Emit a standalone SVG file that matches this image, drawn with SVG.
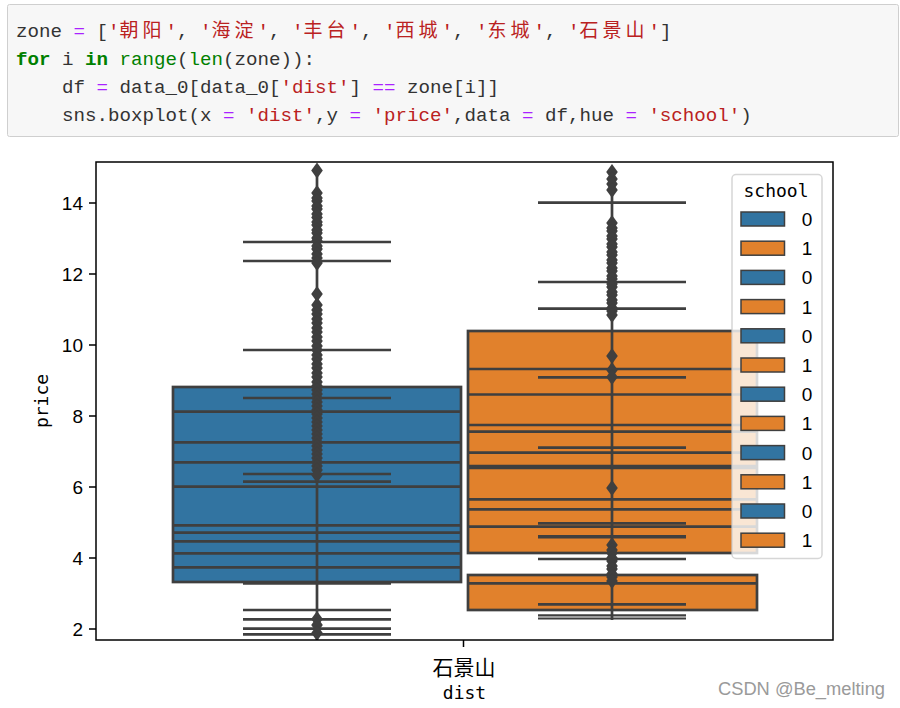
<svg xmlns="http://www.w3.org/2000/svg" xmlns:xlink="http://www.w3.org/1999/xlink" width="900" height="708" viewBox="0 0 900 708">
<style>
.code{font-family:"Liberation Mono","DejaVu Sans Mono",monospace;font-size:19.17px;fill:#333}
.op{fill:#aa22ff}.str{fill:#ba2121}.kw{fill:#008000;font-weight:bold}.bi{fill:#008000}
.cjk{font-family:"Noto Sans CJK SC",sans-serif;font-size:19px;letter-spacing:4px}
.tick{font-family:"Liberation Sans",Arial,sans-serif;font-size:19px;fill:#000}
.lab{font-family:"DejaVu Sans Mono","Liberation Mono",monospace;font-size:18px;fill:#000}
.ln{stroke:#3f3f3f;stroke-width:2.7;fill:none}
.cap{stroke:#3f3f3f;stroke-width:2.7}
.blue{fill:#3274a1}.orange{fill:#e1812c}
.patch{stroke:#3f3f3f;stroke-width:1.5}
.leg{font-family:"Liberation Sans",Arial,sans-serif;font-size:19px;fill:#000;text-anchor:middle}
</style>
<defs>
<path id="d" d="M0,-8 L5.8,0 L0,8 L-5.8,0 Z" fill="#3f3f3f"/>
<clipPath id="ax"><rect x="96" y="162" width="737" height="478"/></clipPath>
</defs>
<rect width="900" height="708" fill="#fff"/>
<g id="code">
<rect x="7.5" y="4.5" width="891" height="132" rx="2" fill="#f7f7f7" stroke="#cfcfcf"/>
<text class="code" y="37"><tspan x="16">zone</tspan><tspan x="73.5" class="op">=</tspan><tspan x="96.5">[</tspan><tspan x="108" class="str">'</tspan><tspan x="119.5" class="str cjk">朝阳</tspan><tspan x="165.5" class="str">'</tspan><tspan x="177">,</tspan><tspan x="200" class="str">'</tspan><tspan x="211.5" class="str cjk">海淀</tspan><tspan x="257.5" class="str">'</tspan><tspan x="269">,</tspan><tspan x="292" class="str">'</tspan><tspan x="303.5" class="str cjk">丰台</tspan><tspan x="349.5" class="str">'</tspan><tspan x="361">,</tspan><tspan x="384" class="str">'</tspan><tspan x="395.5" class="str cjk">西城</tspan><tspan x="441.5" class="str">'</tspan><tspan x="453">,</tspan><tspan x="476" class="str">'</tspan><tspan x="487.5" class="str cjk">东城</tspan><tspan x="533.5" class="str">'</tspan><tspan x="545">,</tspan><tspan x="568" class="str">'</tspan><tspan x="579.5" class="str cjk">石景山</tspan><tspan x="648.5" class="str">'</tspan><tspan x="660">]</tspan></text>
<text class="code" x="16" y="65"><tspan class="kw">for</tspan> i <tspan class="kw">in</tspan> <tspan class="bi">range</tspan>(<tspan class="bi">len</tspan>(zone)):</text>
<text class="code" x="62" y="93">df <tspan class="op">=</tspan> data_0[data_0[<tspan class="str">'dist'</tspan>] <tspan class="op">==</tspan> zone[i]]</text>
<text class="code" x="62" y="121">sns.boxplot(x <tspan class="op">=</tspan> <tspan class="str">'dist'</tspan>,y <tspan class="op">=</tspan> <tspan class="str">'price'</tspan>,data <tspan class="op">=</tspan> df,hue <tspan class="op">=</tspan> <tspan class="str">'school'</tspan>)</text>
</g>
<g id="plot" clip-path="url(#ax)">
<g id="boxes-blue">
<rect x="173" y="387" width="288" height="195" class="blue ln"/>
<path class="ln" d="M173,411.7H461M173,442.3H461M173,462.3H461M173,486.7H461M173,525.3H461M173,532.7H461M173,541.3H461M173,553.3H461M173,567.3H461"/>
<path class="cap" d="M243,242H391M243,261H391M243,350H391M243,398H391M243,474H391M243,481.7H391M243,583.5H391M243,610H391M243,619.3H391M243,628.7H391M243,634.3H391"/>
<path class="ln" d="M317,170V640"/>
<g id="fliers-blue">
<use xlink:href="#d" x="317" y="170.5"/>
<use xlink:href="#d" x="317" y="193"/><use xlink:href="#d" x="317" y="198"/><use xlink:href="#d" x="317" y="201"/><use xlink:href="#d" x="317" y="206"/><use xlink:href="#d" x="317" y="209"/><use xlink:href="#d" x="317" y="214"/><use xlink:href="#d" x="317" y="217.5"/><use xlink:href="#d" x="317" y="222"/><use xlink:href="#d" x="317" y="225"/><use xlink:href="#d" x="317" y="230"/><use xlink:href="#d" x="317" y="233"/><use xlink:href="#d" x="317" y="238"/><use xlink:href="#d" x="317" y="241"/><use xlink:href="#d" x="317" y="246"/><use xlink:href="#d" x="317" y="249"/><use xlink:href="#d" x="317" y="254"/><use xlink:href="#d" x="317" y="258"/><use xlink:href="#d" x="317" y="263"/>
<use xlink:href="#d" x="317" y="294"/>
<use xlink:href="#d" x="317" y="305"/><use xlink:href="#d" x="317" y="310"/><use xlink:href="#d" x="317" y="314"/><use xlink:href="#d" x="317" y="319"/><use xlink:href="#d" x="317" y="323"/><use xlink:href="#d" x="317" y="328"/><use xlink:href="#d" x="317" y="332"/><use xlink:href="#d" x="317" y="337"/><use xlink:href="#d" x="317" y="341"/><use xlink:href="#d" x="317" y="346"/><use xlink:href="#d" x="317" y="350"/><use xlink:href="#d" x="317" y="355"/><use xlink:href="#d" x="317" y="359"/><use xlink:href="#d" x="317" y="364"/><use xlink:href="#d" x="317" y="368"/><use xlink:href="#d" x="317" y="373"/><use xlink:href="#d" x="317" y="377"/><use xlink:href="#d" x="317" y="382"/><use xlink:href="#d" x="317" y="386"/><use xlink:href="#d" x="317" y="390"/><use xlink:href="#d" x="317" y="394"/><use xlink:href="#d" x="317" y="398"/><use xlink:href="#d" x="317" y="402"/><use xlink:href="#d" x="317" y="406"/><use xlink:href="#d" x="317" y="410"/><use xlink:href="#d" x="317" y="414"/><use xlink:href="#d" x="317" y="418"/><use xlink:href="#d" x="317" y="422"/><use xlink:href="#d" x="317" y="426"/><use xlink:href="#d" x="317" y="430"/><use xlink:href="#d" x="317" y="434"/><use xlink:href="#d" x="317" y="438"/><use xlink:href="#d" x="317" y="442"/><use xlink:href="#d" x="317" y="446"/><use xlink:href="#d" x="317" y="450"/><use xlink:href="#d" x="317" y="454"/><use xlink:href="#d" x="317" y="458"/><use xlink:href="#d" x="317" y="462"/><use xlink:href="#d" x="317" y="466"/><use xlink:href="#d" x="317" y="470"/><use xlink:href="#d" x="317" y="475"/>
<use xlink:href="#d" x="317" y="619"/><use xlink:href="#d" x="317" y="625"/><use xlink:href="#d" x="317" y="633"/>
</g>
</g>
<g id="boxes-orange">
<rect x="468" y="331" width="289" height="222" class="orange ln"/>
<rect x="468" y="575" width="289" height="35" class="orange ln"/>
<path class="ln" d="M468,369H757M468,394.5H757M468,425H757M468,431.7H757M468,452.7H757M468,499.3H757M468,509.3H757M468,526.7H757M468,583.3H757"/>
<path d="M468,467H757" stroke="#3f3f3f" stroke-width="4.5"/>
<path class="cap" d="M538,202.7H686M538,282H686M538,308.7H686M538,377.3H686M538,447.7H686M538,523.3H686M538,559H686M538,604.3H686"/>
<path d="M538,536.7H686" stroke="#3f3f3f" stroke-width="3.5"/>
<path d="M538,615.3H686M538,618.5H686" stroke="#3f3f3f" stroke-width="2.2"/>
<path class="ln" d="M612,172V620"/>
<g id="fliers-orange">
<use xlink:href="#d" x="612" y="172"/><use xlink:href="#d" x="612" y="179"/><use xlink:href="#d" x="612" y="184"/><use xlink:href="#d" x="612" y="190"/>
<use xlink:href="#d" x="612" y="223"/><use xlink:href="#d" x="612" y="228"/><use xlink:href="#d" x="612" y="231"/><use xlink:href="#d" x="612" y="236"/><use xlink:href="#d" x="612" y="239"/><use xlink:href="#d" x="612" y="244"/><use xlink:href="#d" x="612" y="247"/><use xlink:href="#d" x="612" y="252"/><use xlink:href="#d" x="612" y="255"/><use xlink:href="#d" x="612" y="260"/><use xlink:href="#d" x="612" y="263"/><use xlink:href="#d" x="612" y="268"/><use xlink:href="#d" x="612" y="271"/><use xlink:href="#d" x="612" y="276"/><use xlink:href="#d" x="612" y="279"/><use xlink:href="#d" x="612" y="284"/><use xlink:href="#d" x="612" y="287"/><use xlink:href="#d" x="612" y="292"/><use xlink:href="#d" x="612" y="295"/><use xlink:href="#d" x="612" y="300"/><use xlink:href="#d" x="612" y="303"/><use xlink:href="#d" x="612" y="308"/><use xlink:href="#d" x="612" y="311"/><use xlink:href="#d" x="612" y="315"/>
<use xlink:href="#d" x="612" y="356"/><use xlink:href="#d" x="612" y="370"/><use xlink:href="#d" x="612" y="377"/>
<use xlink:href="#d" x="612" y="488"/>
<use xlink:href="#d" x="612" y="545"/><use xlink:href="#d" x="612" y="550"/><use xlink:href="#d" x="612" y="553"/><use xlink:href="#d" x="612" y="558"/><use xlink:href="#d" x="612" y="561"/><use xlink:href="#d" x="612" y="566"/><use xlink:href="#d" x="612" y="569"/><use xlink:href="#d" x="612" y="574"/><use xlink:href="#d" x="612" y="577"/><use xlink:href="#d" x="612" y="581"/>
</g>
</g>
</g>
<g id="axes">
<rect x="96" y="162" width="737" height="478" fill="none" stroke="#000" stroke-width="1.5"/>
<path d="M89,203H96M89,274H96M89,345H96M89,416H96M89,487H96M89,558H96M89,629H96M463.5,640V647" stroke="#000" stroke-width="1.5"/>
<g class="tick" text-anchor="end">
<text x="83" y="209.5">14</text><text x="83" y="280.5">12</text><text x="83" y="351.5">10</text><text x="83" y="422.5">8</text><text x="83" y="493.5">6</text><text x="83" y="564.5">4</text><text x="83" y="635.5">2</text>
</g>
<text class="lab" text-anchor="middle" transform="translate(48,401) rotate(-90)">price</text>
<text x="464" y="675" text-anchor="middle" font-family="Noto Sans CJK SC, sans-serif" font-size="21" fill="#000">石景山</text>
<text class="lab" x="464.5" y="699" text-anchor="middle">dist</text>
</g>
<g id="legend">
<rect x="732" y="174.5" width="90" height="384" rx="4" fill="#fff" fill-opacity="0.8" stroke="#cccccc" stroke-opacity="0.8" stroke-width="1.5"/>
<text class="lab" x="776" y="197" text-anchor="middle" font-size="17">school</text>
<rect class="patch blue" x="741" y="212" width="43.5" height="14"/>
<rect class="patch orange" x="741" y="241.2" width="43.5" height="14"/>
<rect class="patch blue" x="741" y="270.4" width="43.5" height="14"/>
<rect class="patch orange" x="741" y="299.6" width="43.5" height="14"/>
<rect class="patch blue" x="741" y="328.8" width="43.5" height="14"/>
<rect class="patch orange" x="741" y="358" width="43.5" height="14"/>
<rect class="patch blue" x="741" y="387.2" width="43.5" height="14"/>
<rect class="patch orange" x="741" y="416.4" width="43.5" height="14"/>
<rect class="patch blue" x="741" y="445.6" width="43.5" height="14"/>
<rect class="patch orange" x="741" y="474.8" width="43.5" height="14"/>
<rect class="patch blue" x="741" y="504" width="43.5" height="14"/>
<rect class="patch orange" x="741" y="533.2" width="43.5" height="14"/>
<text class="leg" x="807" y="226">0</text><text class="leg" x="807" y="255.2">1</text><text class="leg" x="807" y="284.4">0</text><text class="leg" x="807" y="313.6">1</text><text class="leg" x="807" y="342.8">0</text><text class="leg" x="807" y="372">1</text><text class="leg" x="807" y="401.2">0</text><text class="leg" x="807" y="430.4">1</text><text class="leg" x="807" y="459.6">0</text><text class="leg" x="807" y="488.8">1</text><text class="leg" x="807" y="518">0</text><text class="leg" x="807" y="547.2">1</text>
</g>
<text x="718" y="695" font-family="Liberation Sans, Arial, sans-serif" font-size="18" fill="#9a9a9a" textLength="167" lengthAdjust="spacingAndGlyphs">CSDN @Be_melting</text>
</svg>
